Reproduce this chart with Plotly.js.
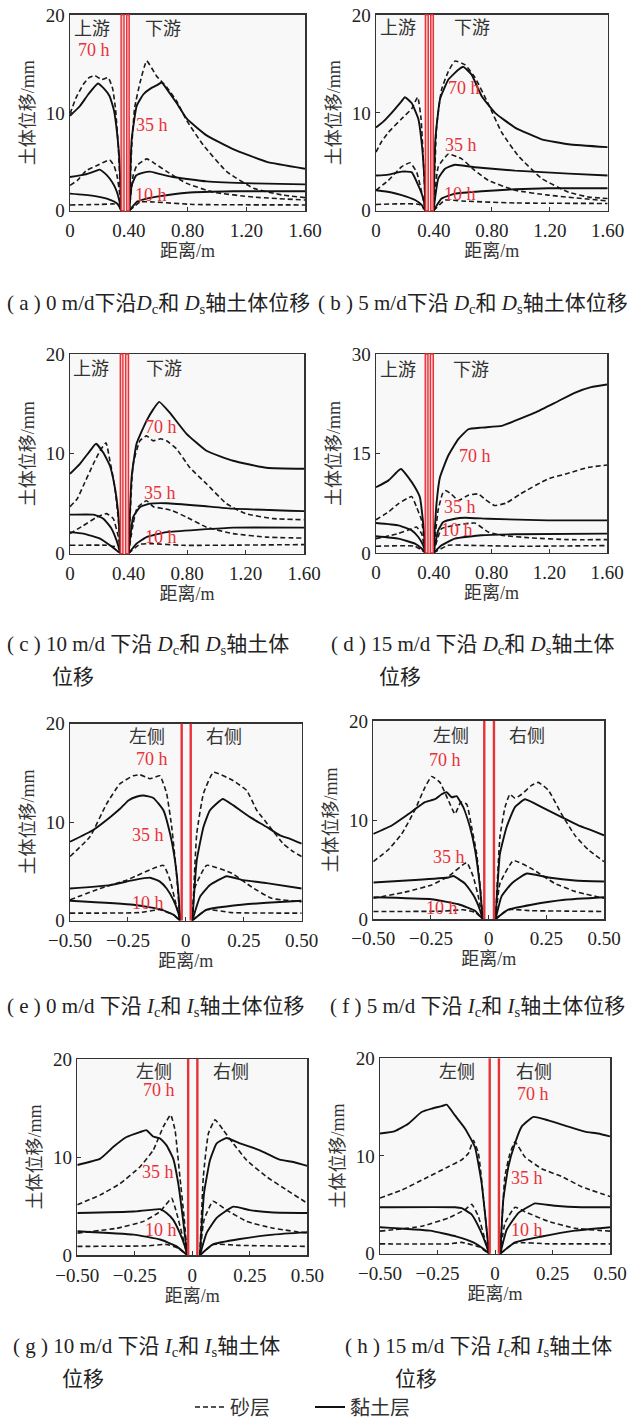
<!DOCTYPE html>
<html><head><meta charset="utf-8">
<script src="https://cdn.plot.ly/plotly-3.0.1.min.js"></script>
<style>html,body{margin:0;padding:0;background:#fff}#chart{width:629px;height:1427px}</style>
</head><body><div id="chart"></div>
<script>
// ---------------- DATA (distance m, displacement mm); null = gap at the wall ----------------
// (a) 0 m/d, Dc & Ds
const a_clay70 = [[0,9.7],[0.068,10.7],[0.125,11.9],[0.19,13.0],[0.23,12.5],[0.27,11.7],[0.30,10.2],[0.32,8.0],[0.335,5.5],[0.343,2.6],[0.348,0],null,[0.403,0],[0.42,7.3],[0.454,10.7],[0.5,11.9],[0.55,12.5],[0.59,12.8],[0.624,13.1],[0.67,12.2],[0.726,11.0],[0.795,9.4],[0.93,7.7],[1.11,6.3],[1.34,5.0],[1.6,4.3]];
const a_sand70 = [[0,9.9],[0.04,11.5],[0.09,12.9],[0.13,13.6],[0.17,13.8],[0.215,13.4],[0.26,13.6],[0.29,12.5],[0.31,10.4],[0.33,6.3],[0.348,0],null,[0.403,0],[0.42,6.5],[0.44,10.5],[0.477,13.1],[0.522,15.3],[0.59,13.75],[0.66,12.6],[0.726,11.2],[0.795,9.2],[0.908,6.7],[1.067,4.0],[1.25,2.3],[1.45,1.6],[1.6,1.35]];
const a_clay35 = [[0,3.45],[0.1,3.7],[0.18,4.1],[0.2,4.2],[0.24,3.8],[0.27,3.3],[0.3,2.6],[0.32,1.9],[0.338,0.9],[0.348,0],null,[0.403,0],[0.42,2.6],[0.45,3.6],[0.5,3.9],[0.545,4.0],[0.6,3.8],[0.7,3.45],[0.93,3.0],[1.25,2.8],[1.6,2.7]];
const a_sand35 = [[0,2.6],[0.05,3.1],[0.11,4.1],[0.18,4.6],[0.27,5.2],[0.3,4.6],[0.32,3.6],[0.338,1.8],[0.348,0],null,[0.403,0],[0.43,3.6],[0.454,4.6],[0.522,5.3],[0.58,4.8],[0.66,4.0],[0.795,2.8],[0.976,1.9],[1.25,1.4],[1.6,1.1]];
const a_clay10 = [[0,1.75],[0.15,1.55],[0.25,1.25],[0.3,0.95],[0.33,0.6],[0.348,0],null,[0.403,0],[0.454,0.9],[0.522,1.25],[0.613,1.5],[0.795,1.85],[1.11,2.0],[1.6,2.0]];
const a_sand10 = [[0,0.6],[0.2,0.65],[0.3,0.7],[0.335,0.5],[0.348,0],null,[0.403,0],[0.477,0.9],[0.57,0.9],[0.84,0.65],[1.6,0.6]];
const a_wall = [0.348,0.368,0.386,0.403];

// (b) 5 m/d, Dc & Ds
const b_clay70 = [[0,8.5],[0.05,9.1],[0.108,10.0],[0.177,11.2],[0.2,11.6],[0.246,11.0],[0.292,9.4],[0.315,7.0],[0.334,3.3],[0.342,0],null,[0.397,0],[0.41,7.3],[0.442,11.4],[0.5,13.4],[0.569,14.4],[0.603,14.7],[0.66,13.9],[0.73,11.7],[0.822,10.0],[0.96,8.5],[1.144,7.3],[1.33,6.8],[1.6,6.5]];
const b_sand70 = [[0,6.0],[0.04,7.1],[0.085,8.0],[0.177,9.4],[0.246,10.4],[0.288,11.6],[0.311,9.4],[0.329,4.6],[0.342,0],null,[0.397,0],[0.419,8.7],[0.453,12.4],[0.5,14.25],[0.546,15.3],[0.615,14.9],[0.684,13.6],[0.776,10.9],[0.868,8.0],[0.983,5.6],[1.144,3.3],[1.33,1.9],[1.47,1.4],[1.6,1.25]];
const b_clay35 = [[0,3.6],[0.085,3.7],[0.177,4.0],[0.246,3.95],[0.292,2.6],[0.327,1.25],[0.342,0],null,[0.397,0],[0.43,3.3],[0.477,4.3],[0.546,4.7],[0.684,4.45],[0.96,4.1],[1.33,3.8],[1.6,3.6]];
const b_sand35 = [[0,2.1],[0.085,3.1],[0.177,4.5],[0.235,4.9],[0.281,3.95],[0.315,1.9],[0.342,0],null,[0.397,0],[0.43,4.5],[0.5,5.8],[0.592,5.3],[0.684,4.1],[0.776,3.1],[0.96,2.1],[1.19,1.6],[1.6,1.0]];
const b_clay10 = [[0,2.1],[0.1,1.9],[0.177,1.6],[0.27,1.1],[0.315,0.6],[0.342,0],null,[0.397,0],[0.453,1.25],[0.546,1.75],[0.73,2.0],[0.96,2.2],[1.19,2.3],[1.6,2.3]];
const b_sand10 = [[0,0.65],[0.3,0.65],[0.342,0],null,[0.397,0],[0.477,1.1],[0.592,1.0],[0.96,0.8],[1.6,0.75]];
const b_wall = [0.341,0.361,0.378,0.396];

// (c) 10 m/d, Dc & Ds
const c_clay70 = [[0,8.0],[0.068,9.0],[0.137,10.3],[0.178,11.0],[0.228,10.1],[0.273,8.8],[0.307,6.6],[0.330,4.0],[0.346,0],null,[0.400,0],[0.421,7.6],[0.455,11.0],[0.523,13.3],[0.569,14.45],[0.61,15.2],[0.683,14.1],[0.797,12.0],[0.933,10.3],[1.115,9.3],[1.343,8.6],[1.6,8.5]];
const c_sand70 = [[0,4.7],[0.05,5.5],[0.091,6.8],[0.16,9.0],[0.205,10.3],[0.246,11.1],[0.273,9.3],[0.307,6.6],[0.33,3.5],[0.346,0],null,[0.400,0],[0.432,9.0],[0.478,11.3],[0.523,11.8],[0.569,11.3],[0.62,11.5],[0.66,11.3],[0.728,10.5],[0.82,8.6],[0.933,7.0],[1.07,5.0],[1.2,4.0],[1.39,3.5],[1.6,3.4]];
const c_clay35 = [[0,3.9],[0.16,3.9],[0.228,3.5],[0.284,2.5],[0.319,1.3],[0.346,0],null,[0.400,0],[0.432,3.65],[0.478,4.65],[0.546,5.0],[0.66,5.05],[0.888,4.8],[1.115,4.5],[1.6,4.25]];
const c_sand35 = [[0,2.0],[0.091,2.8],[0.182,3.65],[0.25,4.0],[0.296,3.5],[0.33,1.7],[0.346,0],null,[0.400,0],[0.432,3.0],[0.46,4.6],[0.523,5.3],[0.57,4.7],[0.64,4.5],[0.70,4.3],[0.797,3.65],[0.933,2.65],[1.115,2.0],[1.343,1.65],[1.6,1.55]];
const c_clay10 = [[0,2.15],[0.091,2.0],[0.205,1.5],[0.273,0.83],[0.346,0],null,[0.400,0],[0.455,1.0],[0.523,1.65],[0.66,2.15],[0.888,2.4],[1.115,2.6],[1.6,2.6]];
const c_sand10 = [[0,0.83],[0.25,0.83],[0.33,0.6],[0.346,0],null,[0.400,0],[0.478,0.93],[0.546,1.0],[0.774,0.83],[1.6,0.9]];
const c_wall = [0.344,0.362,0.380,0.400];

// (d) 15 m/d, Dc & Ds
const d_clay70 = [[0,9.9],[0.085,10.9],[0.154,12.4],[0.173,12.65],[0.224,11.4],[0.27,9.9],[0.304,8.4],[0.327,4.4],[0.343,0],null,[0.398,0],[0.419,7.4],[0.443,11.4],[0.5,14.65],[0.57,17.15],[0.64,18.65],[0.73,18.9],[0.87,19.15],[0.96,19.9],[1.1,21.15],[1.24,22.65],[1.376,24.15],[1.49,25.0],[1.6,25.4]];
const d_sand70 = [[0,5.0],[0.085,6.15],[0.154,7.4],[0.247,8.5],[0.281,6.9],[0.316,4.9],[0.343,0],null,[0.398,0],[0.43,6.4],[0.46,8.9],[0.48,9.4],[0.52,8.9],[0.57,7.9],[0.64,8.7],[0.708,8.9],[0.76,8.0],[0.82,7.15],[0.9,7.5],[1.0,8.9],[1.19,11.15],[1.33,12.0],[1.47,12.9],[1.6,13.25]];
const d_clay35 = [[0,4.5],[0.154,4.15],[0.247,3.4],[0.293,2.4],[0.327,1.15],[0.343,0],null,[0.398,0],[0.431,3.4],[0.466,4.65],[0.546,5.15],[0.616,5.3],[0.777,5.15],[1.19,4.9],[1.6,4.9]];
const d_sand35 = [[0,2.15],[0.154,2.9],[0.247,3.65],[0.281,3.9],[0.316,2.9],[0.343,0],null,[0.398,0],[0.454,3.65],[0.546,4.15],[0.685,4.5],[0.777,3.15],[0.869,2.65],[1.077,2.25],[1.33,2.0],[1.6,2.0]];
const d_clay10 = [[0,2.5],[0.154,2.15],[0.27,1.4],[0.316,0.65],[0.343,0],null,[0.398,0],[0.454,1.15],[0.546,2.15],[0.73,2.65],[0.96,2.8],[1.6,2.9]];
const d_sand10 = [[0,1.0],[0.27,1.0],[0.343,0],null,[0.398,0],[0.5,1.15],[0.616,1.15],[0.96,1.0],[1.6,1.1]];
const d_wall = [0.341,0.360,0.376,0.397];

// (e) 0 m/d, Ic & Is
const e_clay70 = [[-0.5,8.0],[-0.4,9.2],[-0.327,10.5],[-0.284,11.35],[-0.248,12.2],[-0.21,12.6],[-0.183,12.7],[-0.14,12.45],[-0.097,11.2],[-0.068,8.8],[-0.047,6.1],[-0.032,2.8],[-0.025,0],null,[0.028,0],[0.047,6.1],[0.076,9.5],[0.104,11.2],[0.159,12.35],[0.205,11.7],[0.277,10.5],[0.349,9.5],[0.406,8.65],[0.45,8.3],[0.5,7.8]];
const e_sand70 = [[-0.5,6.5],[-0.414,8.5],[-0.342,11.85],[-0.284,13.9],[-0.227,14.7],[-0.198,14.8],[-0.155,14.4],[-0.112,14.7],[-0.083,12.9],[-0.061,9.5],[-0.039,4.4],[-0.025,0],null,[0.028,0],[0.047,8.8],[0.076,12.9],[0.119,15.05],[0.205,14.2],[0.263,13.2],[0.306,11.2],[0.363,9.5],[0.42,7.8],[0.463,7.0],[0.5,6.5]];
const e_clay35 = [[-0.5,3.25],[-0.327,3.6],[-0.227,4.1],[-0.155,4.35],[-0.112,3.95],[-0.083,3.25],[-0.054,2.1],[-0.032,0.75],[-0.025,0],null,[0.028,0],[0.061,2.4],[0.104,3.6],[0.176,4.5],[0.248,4.1],[0.349,3.8],[0.5,3.25]];
const e_sand35 = [[-0.5,2.1],[-0.371,3.25],[-0.256,4.1],[-0.097,5.6],[-0.068,4.1],[-0.047,2.1],[-0.025,0],null,[0.028,0],[0.04,3.4],[0.09,5.6],[0.198,4.8],[0.284,3.4],[0.37,2.25],[0.5,1.9]];
const e_clay10 = [[-0.5,2.0],[-0.227,1.6],[-0.112,1.15],[-0.054,0.6],[-0.025,0],null,[0.028,0],[0.09,1.1],[0.198,1.5],[0.349,1.8],[0.5,2.0]];
const e_sand10 = [[-0.5,0.75],[-0.2,0.8],[-0.112,1.1],[-0.054,0.6],[-0.025,0],null,[0.028,0],[0.09,1.1],[0.198,0.8],[0.5,0.75]];
const e_wall = [-0.018,0.021];

// (f) 5 m/d, Ic & Is
const f_clay70 = [[-0.5,8.6],[-0.42,9.45],[-0.348,10.6],[-0.276,11.8],[-0.233,12.1],[-0.204,12.6],[-0.182,12.8],[-0.16,12.3],[-0.139,12.4],[-0.11,11.3],[-0.081,9.3],[-0.059,7.0],[-0.038,3.3],[-0.026,0],null,[0.03,0],[0.049,6.6],[0.078,9.3],[0.114,11.3],[0.158,12.1],[0.23,11.3],[0.316,10.3],[0.389,9.45],[0.447,8.95],[0.5,8.45]];
const f_sand70 = [[-0.5,5.8],[-0.435,7.0],[-0.377,8.6],[-0.32,11.0],[-0.276,13.3],[-0.247,14.4],[-0.211,13.8],[-0.175,12.0],[-0.146,10.6],[-0.121,11.8],[-0.095,11.6],[-0.074,9.3],[-0.052,6.6],[-0.033,2.3],[-0.026,0],null,[0.03,0],[0.049,8.3],[0.071,11.3],[0.092,12.6],[0.114,12.2],[0.143,12.6],[0.186,13.5],[0.215,13.8],[0.259,13.0],[0.316,10.6],[0.374,8.45],[0.432,7.0],[0.5,5.8]];
const f_clay35 = [[-0.5,3.7],[-0.319,3.95],[-0.175,4.2],[-0.153,4.35],[-0.103,3.6],[-0.067,2.45],[-0.038,0.95],[-0.026,0],null,[0.03,0],[0.056,2.3],[0.1,3.6],[0.165,4.6],[0.259,4.2],[0.374,3.9],[0.5,3.8]];
const f_sand35 = [[-0.5,2.1],[-0.348,2.8],[-0.247,3.45],[-0.175,4.3],[-0.095,5.7],[-0.067,4.3],[-0.045,2.3],[-0.026,0],null,[0.03,0],[0.049,3.6],[0.107,5.9],[0.186,5.1],[0.287,3.6],[0.374,2.8],[0.5,2.1]];
const f_clay10 = [[-0.5,2.2],[-0.247,2.0],[-0.131,1.5],[-0.059,0.85],[-0.026,0],null,[0.03,0],[0.085,0.95],[0.186,1.45],[0.33,1.95],[0.5,2.2]];
const f_sand10 = [[-0.5,0.77],[-0.2,0.8],[-0.11,0.95],[-0.06,0.7],[-0.026,0],null,[0.03,0],[0.085,0.95],[0.186,0.85],[0.5,0.77]];
const f_wall = [-0.019,0.023];

// (g) 10 m/d, Ic & Is
const g_clay70 = [[-0.5,9.2],[-0.4,9.85],[-0.343,11.05],[-0.286,12.05],[-0.228,12.55],[-0.2,12.75],[-0.17,12.1],[-0.14,11.9],[-0.112,11.2],[-0.083,9.85],[-0.061,7.3],[-0.042,3.95],[-0.022,0],null,[0.033,0],[0.051,6.3],[0.077,9.7],[0.106,11.4],[0.149,11.95],[0.207,11.4],[0.294,10.7],[0.38,9.75],[0.44,9.5],[0.5,9.1]];
const g_sand70 = [[-0.5,5.15],[-0.4,6.15],[-0.314,7.3],[-0.228,9.0],[-0.17,10.7],[-0.126,13.1],[-0.094,14.3],[-0.075,12.75],[-0.054,8.0],[-0.036,3.95],[-0.022,0],null,[0.033,0],[0.048,8.0],[0.07,12.4],[0.099,13.8],[0.135,12.75],[0.178,11.4],[0.236,9.7],[0.323,8.0],[0.41,6.65],[0.5,5.3]];
const g_clay35 = [[-0.5,4.3],[-0.255,4.45],[-0.14,4.7],[-0.112,4.3],[-0.083,3.6],[-0.054,2.25],[-0.032,0.9],[-0.022,0],null,[0.033,0],[0.062,2.25],[0.106,3.8],[0.178,4.95],[0.25,4.6],[0.352,4.35],[0.5,4.3]];
const g_sand35 = [[-0.5,2.25],[-0.328,2.75],[-0.212,3.45],[-0.14,4.45],[-0.09,5.8],[-0.068,4.3],[-0.042,1.9],[-0.022,0],null,[0.033,0],[0.051,3.6],[0.09,5.5],[0.149,4.6],[0.236,3.45],[0.352,2.75],[0.5,2.25]];
const g_clay10 = [[-0.5,2.45],[-0.255,2.1],[-0.14,1.6],[-0.068,0.9],[-0.022,0],null,[0.033,0],[0.09,1.1],[0.207,1.65],[0.352,2.1],[0.5,2.35]];
const g_sand10 = [[-0.5,0.9],[-0.2,0.95],[-0.112,1.1],[-0.06,0.7],[-0.022,0],null,[0.033,0],[0.09,1.1],[0.207,1.0],[0.5,0.9]];
const g_wall = [-0.018,0.022];

// (h) 15 m/d, Ic & Is
const h_clay70 = [[-0.5,12.3],[-0.435,12.55],[-0.377,13.3],[-0.319,14.5],[-0.275,14.85],[-0.232,15.1],[-0.21,15.25],[-0.174,14.15],[-0.13,12.8],[-0.087,10.9],[-0.058,7.2],[-0.039,3.1],[-0.026,0],null,[0.023,0],[0.036,5.5],[0.058,8.9],[0.087,11.3],[0.116,13.0],[0.167,14.0],[0.232,13.65],[0.319,13.0],[0.391,12.5],[0.449,12.3],[0.5,12.0]];
const h_sand70 = [[-0.5,5.7],[-0.406,6.5],[-0.304,7.7],[-0.203,8.9],[-0.145,9.6],[-0.116,10.25],[-0.094,11.6],[-0.072,10.25],[-0.051,5.85],[-0.026,0],null,[0.023,0],[0.043,7.9],[0.065,10.25],[0.087,11.45],[0.13,9.9],[0.203,8.7],[0.29,7.9],[0.377,6.85],[0.5,5.85]];
const h_clay35 = [[-0.5,4.75],[-0.174,4.75],[-0.145,4.65],[-0.101,4.0],[-0.065,2.45],[-0.036,0.75],[-0.026,0],null,[0.023,0],[0.051,2.45],[0.101,4.15],[0.145,4.8],[0.174,5.15],[0.261,4.9],[0.377,4.75],[0.5,4.75]];
const h_sand35 = [[-0.5,2.3],[-0.319,2.8],[-0.203,3.65],[-0.13,4.5],[-0.101,5.05],[-0.072,3.8],[-0.043,1.4],[-0.026,0],null,[0.023,0],[0.043,3.1],[0.087,4.75],[0.13,4.3],[0.232,3.3],[0.348,2.6],[0.5,2.3]];
const h_clay10 = [[-0.5,2.7],[-0.283,2.35],[-0.167,1.75],[-0.094,1.15],[-0.051,0.5],[-0.026,0],null,[0.023,0],[0.087,1.15],[0.203,1.75],[0.348,2.35],[0.5,2.7]];
const h_sand10 = [[-0.5,1.0],[-0.2,1.0],[-0.145,1.15],[-0.07,0.7],[-0.026,0],null,[0.023,0],[0.087,1.1],[0.232,1.0],[0.5,1.0]];
const h_wall = [-0.023,0.017];

// tick labels
const xTicksD = [0,0.4,0.8,1.2,1.6];
const xTickTextD = ['0','0.40','0.80','1.20','1.60'];
const xTicksI = [-0.5,-0.25,0,0.25,0.5];
const xTickTextI = ['\u22120.50','\u22120.25','0','0.25','0.50'];
const yTicks20 = [0,10,20];
const yTicks30 = [0,15,30];
const seriesNames = ['砂层','黏土层'];
const sideLabelsD = ['上游','下游'];
const sideLabelsI = ['左侧','右侧'];
const timeLabels = ['70 h','35 h','10 h'];

// ---------------- LAYOUT / STYLE ----------------
const W = 629, H = 1427;
const SERIF = 'Liberation Serif, Noto Sans CJK SC, serif';
const RED = '#e8323a';
const panels = [
  {sand:[a_sand10,a_sand35,a_sand70], clay:[a_clay10,a_clay35,a_clay70], wall:a_wall, kind:'D', yt:yTicks20, box:[70,15,305,212],
   side:[[0.148,18.6],[0.635,18.6]], time:[[0.166,16.45],[0.556,8.75],[0.549,1.6]]},
  {sand:[b_sand10,b_sand35,b_sand70], clay:[b_clay10,b_clay35,b_clay70], wall:b_wall, kind:'D', yt:yTicks20, box:[376,15,607.7,212],
   side:[[0.154,18.65],[0.66,18.65]], time:[[0.608,12.57],[0.585,6.76],[0.58,1.76]]},
  {sand:[c_sand10,c_sand35,c_sand70], clay:[c_clay10,c_clay35,c_clay70], wall:c_wall, kind:'D', yt:yTicks20, box:[70,356,304,556.7],
   side:[[0.141,18.5],[0.642,18.5]], time:[[0.619,12.7],[0.614,6.05],[0.619,1.66]]},
  {sand:[d_sand10,d_sand35,d_sand70], clay:[d_clay10,d_clay35,d_clay70], wall:d_wall, kind:'D', yt:yTicks30, box:[376,356,607,556],
   side:[[0.154,27.65],[0.655,27.65]], time:[[0.685,14.65],[0.581,6.9],[0.563,3.4]]},
  {sand:[e_sand10,e_sand35,e_sand70], clay:[e_clay10,e_clay35,e_clay70], wall:e_wall, kind:'I', yt:yTicks20, box:[70,727.7,301.7,925.7],
   side:[[-0.166,18.65],[0.165,18.65]], time:[[-0.147,16.4],[-0.162,8.65],[-0.162,1.82]]},
  {sand:[f_sand10,f_sand35,f_sand70], clay:[f_clay10,f_clay35,f_clay70], wall:f_wall, kind:'I', yt:yTicks20, box:[373.3,725,604,924.3],
   side:[[-0.165,18.43],[0.168,18.43]], time:[[-0.189,16.05],[-0.172,6.29],[-0.204,1.1]]},
  {sand:[g_sand10,g_sand35,g_sand70], clay:[g_clay10,g_clay35,g_clay70], wall:g_wall, kind:'I', yt:yTicks20, box:[77.3,1065,307.3,1262.3],
   side:[[-0.167,18.65],[0.167,18.65]], time:[[-0.145,16.8],[-0.148,8.5],[-0.138,2.6]]},
  {sand:[h_sand10,h_sand35,h_sand70], clay:[h_clay10,h_clay35,h_clay70], wall:h_wall, kind:'I', yt:yTicks20, box:[380,1064.3,610,1260.7],
   side:[[-0.164,18.57],[0.17,18.57]], time:[[0.167,16.37],[0.138,7.7],[0.138,2.45]]}
];

function xy(pairs){const x=[],y=[];pairs.forEach(p=>{if(p===null){x.push(null);y.push(null);}else{x.push(p[0]);y.push(p[1]);}});return {x,y};}

const traces=[], shapes=[], annotations=[];
const layout = {width:W,height:H,margin:{l:0,r:0,t:0,b:0},paper_bgcolor:'#fff',plot_bgcolor:'#f7f8f7',
  showlegend:true, font:{family:SERIF,color:'#222'}};

panels.forEach((p,i)=>{
  const n=i+1, xs = n===1?'':String(n);
  const xa='x'+xs, ya='y'+xs;
  const [l,t,r,b]=p.box;
  const isD = p.kind==='D';
  layout['xaxis'+xs] = {domain:[l/W,r/W], anchor:ya, range:isD?[0,1.6]:[-0.5,0.5],
    tickvals:isD?xTicksD:xTicksI, ticktext:isD?xTickTextD:xTickTextI,
    ticks:'inside', ticklen:4, tickcolor:'#333', showline:true, mirror:true, linecolor:'#333', linewidth:1.5,
    showgrid:false, zeroline:false, tickfont:{family:SERIF,size:19,color:'#222'}, ticklabelstandoff:2,
    title:{text:'距离/m', font:{family:SERIF,size:18,color:'#333'}, standoff:1}, automargin:false};
  layout['yaxis'+xs] = {domain:[1-b/H,1-t/H], anchor:xa, range:[0,p.yt[2]], tickvals:p.yt,
    ticks:'inside', ticklen:4, tickcolor:'#333', showline:true, mirror:true, linecolor:'#333', linewidth:1.5,
    showgrid:false, zeroline:false, tickfont:{family:SERIF,size:19,color:'#222'},
    title:{text:'土体位移/mm', font:{family:SERIF,size:18,color:'#333'}, standoff:6}, automargin:false};
  // walls
  if(isD){
    [[p.wall[0],p.wall[1]],[p.wall[2],p.wall[3]]].forEach(w=>shapes.push({type:'rect',xref:xa,yref:ya+' domain',x0:w[0],x1:w[1],y0:0,y1:1,
      line:{color:RED,width:1.4},fillcolor:'#f6c4c4',layer:'above'}));
  } else {
    p.wall.forEach(w=>shapes.push({type:'line',xref:xa,yref:ya+' domain',x0:w,x1:w,y0:0,y1:1,line:{color:RED,width:2.4},layer:'above'}));
  }
  // curves
  p.sand.forEach((s,k)=>{const d=xy(s);traces.push({x:d.x,y:d.y,xaxis:xa,yaxis:ya,mode:'lines',connectgaps:false,
    line:{color:'#1a1a1a',width:1.6,dash:'5px,3px',shape:'spline',smoothing:0.4},name:seriesNames[0],legend:'legend',
    showlegend:(i===0&&k===0),hoverinfo:'skip',cliponaxis:true});});
  p.clay.forEach((s,k)=>{const d=xy(s);traces.push({x:d.x,y:d.y,xaxis:xa,yaxis:ya,mode:'lines',connectgaps:false,
    line:{color:'#111',width:1.9,shape:'spline',smoothing:0.4},name:seriesNames[1],legend:'legend2',
    showlegend:(i===0&&k===0),hoverinfo:'skip',cliponaxis:true});});
  // labels
  const sl = isD?sideLabelsD:sideLabelsI;
  p.side.forEach((s,k)=>annotations.push({xref:xa,yref:ya,x:s[0],y:s[1],text:sl[k],showarrow:false,
    font:{family:SERIF,size:18,color:'#333'}}));
  p.time.forEach((s,k)=>annotations.push({xref:xa,yref:ya,x:s[0],y:s[1],text:timeLabels[k],showarrow:false,
    font:{family:SERIF,size:18,color:RED}}));
});

// captions
const Dc='<i>D</i><sub>c</sub>', Ds='<i>D</i><sub>s</sub>', Ic='<i>I</i><sub>c</sub>', Is='<i>I</i><sub>s</sub>';
const captions = [
  ['( a ) 0 m/d下沿'+Dc+'和 '+Ds+'轴土体位移',5,306],
  ['( b ) 5 m/d下沿 '+Dc+'和 '+Ds+'轴土体位移',316,306],
  ['( c ) 10 m/d 下沿 '+Dc+'和 '+Ds+'轴土体',5,649],
  ['位移',50,681],
  ['( d ) 15 m/d 下沿 '+Dc+'和 '+Ds+'轴土体',329,649],
  ['位移',377,681],
  ['( e ) 0 m/d 下沿 '+Ic+'和 '+Is+'轴土体位移',5,1013],
  ['( f ) 5 m/d 下沿 '+Ic+'和 '+Is+'轴土体位移',328,1013],
  ['( g ) 10 m/d 下沿 '+Ic+'和 '+Is+'轴土体',11,1355],
  ['位移',60,1387],
  ['( h ) 15 m/d 下沿 '+Ic+'和 '+Is+'轴土体',343,1355],
  ['位移',393,1387]
];
captions.forEach(c=>annotations.push({xref:'paper',yref:'paper',x:c[1]/W,y:1-c[2]/H,xanchor:'left',yanchor:'middle',
  text:c[0],showarrow:false,font:{family:SERIF,size:21,color:'#222'}}));

layout.shapes=shapes; layout.annotations=annotations;
const legStyle = {orientation:'h',xanchor:'left',y:1-1415/H,yanchor:'middle',bgcolor:'rgba(0,0,0,0)',
  font:{family:SERIF,size:20,color:'#333'},itemwidth:30};
layout.legend = Object.assign({x:190/W}, legStyle);
layout.legend2 = Object.assign({x:310/W}, legStyle);

Plotly.newPlot('chart',traces,layout,{displayModeBar:false,staticPlot:true});
</script></body></html>
